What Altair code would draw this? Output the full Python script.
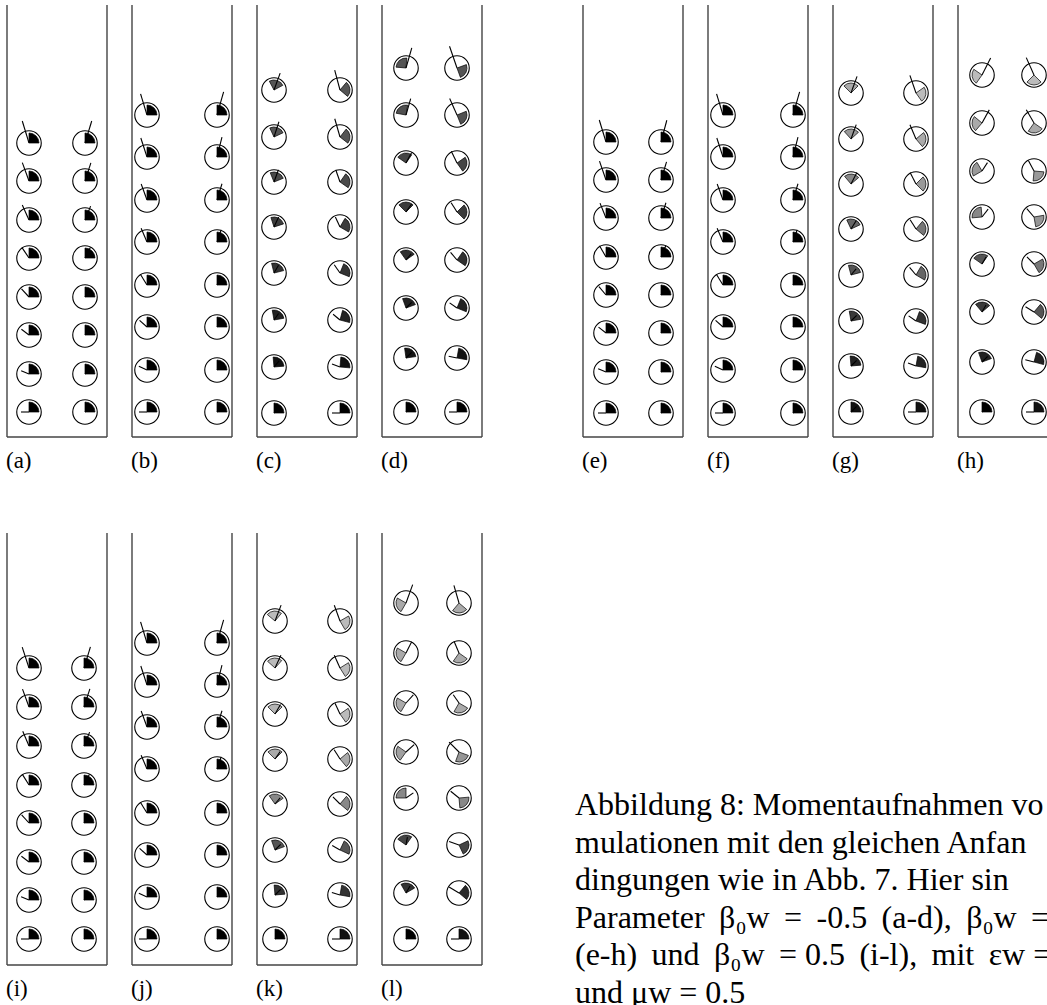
import math
import altair as alt
import pandas as pd

# ---------------------------------------------------------------------------
# Snapshot data: 12 containers, two columns of eight discs each.
# Per disc: height of centre above the floor, marker wedge orientation
# (start angle of a 90 degree sector, degrees, counter-clockwise from +x),
# wedge grey level (0 = black), stick angle (degrees) and stick length.
# ---------------------------------------------------------------------------
PANELS = ["a", "b", "c", "d", "e", "f", "g", "h", "i", "j", "k", "l"]

COL_X = {
    "a": (22, 78), "b": (15, 85), "c": (17, 83), "d": (24, 75),
    "e": (23, 78), "f": (15, 85), "g": (18, 83), "h": (24, 76),
    "i": (22, 77), "j": (15, 85), "k": (18, 83), "l": (24, 77),
}

ROW_H = {
    "a": [294, 256, 217, 179, 140, 102, 63, 25],
    "b": [322, 280, 237, 195, 152, 110, 67, 25],
    "c": [347, 300, 255, 210, 164, 117, 70, 24],
    "d": [369, 322, 274, 225, 177, 129, 79, 25],
    "e": [295, 257, 219, 180, 142, 104, 65, 24],
    "f": [322, 280, 237, 195, 152, 110, 67, 24],
    "g": [344, 298, 253, 208, 162, 116, 71, 25],
    "h": [362, 314, 266, 220, 173, 125, 75, 25],
    "i": [297, 258, 219, 180, 142, 103, 65, 26],
    "j": [322, 280, 238, 196, 152, 110, 68, 26],
    "k": [344, 297, 251, 206, 161, 115, 70, 26],
    "l": [362, 312, 262, 213, 167, 120, 72, 26],
}

ZERO8 = [0, 0, 0, 0, 0, 0, 0, 0]

WEDGE_L = {
    "a": ZERO8, "b": ZERO8, "e": ZERO8, "f": ZERO8, "i": ZERO8, "j": ZERO8,
    "c": [28, 25, 22, 18, 14, 10, 5, 0],
    "d": [85, 80, 55, 45, 35, 20, 8, 0],
    "g": [45, 42, 40, 25, 15, 10, 5, 0],
    "h": [145, 140, 120, 95, 55, 40, 20, 0],
    "k": [50, 48, 45, 45, 35, 20, 5, 0],
    "l": [150, 150, 150, 145, 90, 55, 30, 0],
}
WEDGE_R = {
    "a": ZERO8, "b": ZERO8, "e": ZERO8, "f": ZERO8, "i": ZERO8, "j": ZERO8,
    "c": [-40, -38, -35, -30, -22, -15, -5, 0],
    "d": [-70, -68, -55, -45, -35, -22, -10, 0],
    "g": [-55, -50, -45, -40, -30, -20, -10, 0],
    "h": [225, 235, 265, 280, 300, 320, 345, 0],
    "k": [-60, -58, -55, -50, -40, -25, -10, 0],
    "l": [230, 235, 240, 250, 275, 295, 320, 0],
}

GRAY_L = {
    "a": ZERO8, "b": ZERO8, "e": ZERO8, "f": ZERO8, "i": ZERO8, "j": ZERO8,
    "c": [85, 85, 74, 60, 51, 34, 17, 0],
    "d": [85, 80, 68, 58, 48, 34, 20, 0],
    "g": [170, 153, 136, 102, 85, 58, 34, 17],
    "h": [187, 170, 153, 136, 85, 58, 34, 0],
    "k": [187, 187, 180, 170, 136, 85, 51, 0],
    "l": [170, 170, 170, 160, 136, 68, 51, 0],
}
GRAY_R = {
    "a": ZERO8, "b": ZERO8, "e": ZERO8, "f": ZERO8, "i": ZERO8, "j": ZERO8,
    "c": [85, 85, 74, 60, 51, 34, 17, 0],
    "d": [85, 80, 68, 58, 48, 34, 20, 0],
    "g": [187, 170, 153, 119, 102, 51, 34, 17],
    "h": [187, 170, 153, 150, 119, 85, 34, 17],
    "k": [187, 187, 187, 170, 136, 85, 51, 17],
    "l": [170, 170, 170, 150, 136, 68, 40, 17],
}

STICK_ANG_L = {
    "a": [107, 110, 114, 124, 133, 143, 157, 180],
    "b": [107, 108, 110, 113, 122, 138, 155, 180],
    "c": [70, 72, 70, 65, 60, 55, 50, 45],
    "d": [74, 74, 62, 55, 50, 45, 45, 45],
    "e": [107, 109, 112, 120, 130, 142, 157, 180],
    "f": [107, 108, 110, 113, 122, 138, 155, 180],
    "g": [70, 70, 63, 58, 50, 45, 45, 45],
    "h": [63, 61, 57, 52, 60, 60, 45, 45],
    "i": [108, 110, 113, 122, 132, 143, 158, 180],
    "j": [107, 108, 110, 113, 122, 138, 155, 180],
    "k": [69, 65, 60, 55, 50, 45, 45, 45],
    "l": [70, 63, 48, 42, 35, 80, 60, 45],
}
STICK_LEN_L = {
    "a": [23, 19.5, 16.5, 12.5, 11, 9.5, 8.5, 8],
    "b": [22, 20, 17, 15, 12, 10, 9, 8],
    "c": [18, 16, 13, 11, 9, 8, 8, 8],
    "d": [21, 17, 12, 10, 8, 8, 8, 8],
    "e": [23, 20, 16, 13, 11, 9.5, 8.5, 8],
    "f": [22, 20, 17, 15, 12, 10, 9, 8],
    "g": [17.7, 15.3, 13, 10, 8, 8, 8, 8],
    "h": [19, 15, 10, 10, 8, 8, 8, 8],
    "i": [22, 19, 16, 12.5, 11, 9.5, 8.5, 8],
    "j": [22, 20, 17, 15, 12, 10, 9, 8],
    "k": [17, 14, 11, 9, 8, 8, 8, 8],
    "l": [19.5, 12.5, 11, 11, 9, 8, 8, 8],
}
STICK_ANG_R = {
    "a": [73, 72, 68, 63, 58, 50, 45, 45],
    "b": [74, 76, 73, 71, 65, 55, 50, 45],
    "c": [105, 106, 109, 115, 125, 140, 160, 180],
    "d": [109, 114, 116, 122, 130, 145, 168, 180],
    "e": [75, 73, 72, 67, 60, 50, 45, 45],
    "f": [74, 76, 73, 71, 65, 55, 50, 45],
    "g": [109, 113, 117, 122, 130, 145, 160, 180],
    "h": [114, 120, 118, 131, 135, 148, 165, 180],
    "i": [73, 72, 68, 63, 58, 50, 45, 45],
    "j": [74, 76, 73, 71, 65, 55, 50, 45],
    "k": [110, 114, 115, 122, 135, 150, 163, 180],
    "l": [106, 113, 125, 135, 141, 160, 149, 180],
}
STICK_LEN_R = {
    "a": [23, 19, 15, 12, 10, 8, 8, 8],
    "b": [24, 20.5, 17, 13, 9, 8, 8, 8],
    "c": [20.5, 19, 13, 11, 10, 9, 8.5, 8],
    "d": [23, 18, 13, 11, 10, 9, 8.5, 8],
    "e": [22.5, 19, 16, 12.5, 10, 8, 8, 8],
    "f": [24, 20.5, 17, 13, 9, 8, 8, 8],
    "g": [18.7, 15.5, 13, 11, 10, 9, 8.5, 8],
    "h": [19, 15.4, 12, 11, 10, 10, 9, 8],
    "i": [22, 19, 15, 12, 10, 8, 8, 8],
    "j": [24, 20.5, 17, 13, 9, 8, 8, 8],
    "k": [16.7, 14, 11.8, 11, 10, 9, 8.5, 8],
    "l": [18.4, 12.7, 10, 14, 10.7, 10.5, 11.6, 8],
}

# justified caption lines; slightly widened gaps (space + thin space)
G = " \u2009"
CAPTION = [
    "Abbildung 8: Momentaufnahmen vo",
    "mulationen mit den gleichen Anfan",
    "dingungen wie in Abb. 7. Hier sin",
    f"Parameter{G}β₀w{G}={G}-0.5{G}(a-d),{G}β₀w{G}=",
    "(e-h)\u2009 und\u2009 β₀w\u2009 = 0.5\u2009 (i-l),\u2009 mit\u2009 εw =",
    "und μw = 0.5",
]

# ---------------------------------------------------------------------------
# Layout of the containers on the page
# ---------------------------------------------------------------------------
W, H = 1047, 1005
BOX_W, BOX_H = 100, 432
STEP = 125


def box_origin(k):
    if k < 8:
        left = 7 + STEP * k + (76 if k >= 4 else 0)
        floor = 437
    else:
        left = 7 + STEP * (k - 8)
        floor = 965
    return left, floor


walls, discs, labels = [], [], []
for k, p in enumerate(PANELS):
    left, floor = box_origin(k)
    top = floor - BOX_H
    walls += [
        {"x": left, "y": top, "x2": left, "y2": floor},
        {"x": left + BOX_W, "y": top, "x2": left + BOX_W, "y2": floor},
        {"x": left, "y": floor, "x2": left + BOX_W, "y2": floor},
    ]
    labels.append({"x": left - 1, "y": floor + 31, "text": f"({p})"})
    for c, side in enumerate(("L", "R")):
        wedge = (WEDGE_L if side == "L" else WEDGE_R)[p]
        gray = (GRAY_L if side == "L" else GRAY_R)[p]
        ang = (STICK_ANG_L if side == "L" else STICK_ANG_R)[p]
        ln = (STICK_LEN_L if side == "L" else STICK_LEN_R)[p]
        for r in range(8):
            cx = left + COL_X[p][c]
            cy = floor - ROW_H[p][r]
            t1 = (-wedge[r]) % 360
            g = gray[r]
            a = math.radians(ang[r])
            discs.append({
                "x": cx, "y": cy,
                "t1": math.radians(t1), "t2": math.radians(t1 + 90),
                "fill": f"#{g:02x}{g:02x}{g:02x}",
                "sx": cx + ln[r] * math.cos(a),
                "sy": cy - ln[r] * math.sin(a),
            })

walls = pd.DataFrame(walls)
discs = pd.DataFrame(discs)
labels = pd.DataFrame(labels)
caption = pd.DataFrame({
    "x": [575] * len(CAPTION),
    "y": [815 + 37.6 * i for i in range(len(CAPTION))],
    "text": CAPTION,
})

xs = alt.Scale(domain=[0, W], nice=False, zero=False)
ys = alt.Scale(domain=[0, H], nice=False, zero=False, reverse=True)


def X(f="x"):
    return alt.X(f"{f}:Q", scale=xs, axis=None)


def Y(f="y"):
    return alt.Y(f"{f}:Q", scale=ys, axis=None)


wall_layer = alt.Chart(walls).mark_rule(color="#444444", strokeWidth=1.4).encode(
    x=X(), y=Y(), x2="x2:Q", y2="y2:Q"
)

circle_layer = alt.Chart(discs).mark_point(
    shape="circle", filled=True, fill="white", stroke="black",
    strokeWidth=1.1, size=600, opacity=1
).encode(x=X(), y=Y())

wedge_layer = alt.Chart(discs).mark_arc(
    radius=10, stroke="black", strokeWidth=0.7
).encode(
    x=X(), y=Y(),
    theta=alt.Theta("t1:Q", scale=None, stack=False),
    theta2="t2:Q",
    fill=alt.Fill("fill:N", scale=None),
)

stick_layer = alt.Chart(discs).mark_rule(color="black", strokeWidth=1.1).encode(
    x=X(), y=Y(), x2="sx:Q", y2="sy:Q"
)

label_layer = alt.Chart(labels).mark_text(
    font="Liberation Serif", fontSize=23, align="left", baseline="alphabetic",
    color="black"
).encode(x=X(), y=Y(), text="text:N")

caption_layer = alt.Chart(caption).mark_text(
    font="Liberation Serif", fontSize=32, align="left", baseline="alphabetic",
    color="black"
).encode(x=X(), y=Y(), text="text:N")

chart = alt.layer(
    wall_layer, circle_layer, wedge_layer, stick_layer, label_layer, caption_layer
).properties(
    width=W, height=H,
    autosize=alt.AutoSizeParams(type="none"),
    padding=0,
    background="white",
).configure_view(stroke=None)

chart.save("out.html", embed_options={"renderer": "svg", "actions": False})
